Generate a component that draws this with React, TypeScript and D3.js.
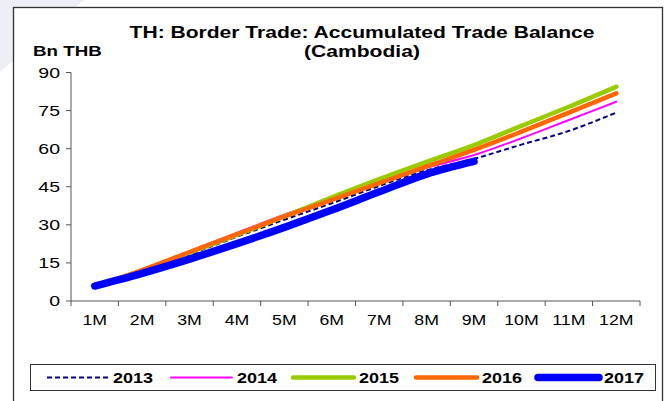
import React from "react";
import * as d3 from "d3";

const months = ["1M", "2M", "3M", "4M", "5M", "6M", "7M", "8M", "9M", "10M", "11M", "12M"];
const yTicks = [0, 15, 30, 45, 60, 75, 90];
const s2013 = [5.5, 11.5, 18.3, 25.3, 32, 38.5, 45.3, 51.5, 56, 61.6, 67, 74.2];
const s2014 = [6, 12.4, 19.6, 26.8, 34, 40.2, 46.5, 52.5, 57.5, 64.1, 71.3, 78.5];
const s2015 = [5.8, 12, 19, 26, 33.3, 40.8, 48, 54.8, 61.4, 69, 76.5, 84.4];
const s2016 = [5.8, 12.2, 19.3, 26.3, 33.3, 39.8, 46.4, 53, 59.5, 66.7, 74.2, 81.8];
const s2017 = [5.9, 10.9, 16.5, 22.6, 29, 35.8, 43, 50, 55];

const seriesNames = ["2013", "2014", "2015", "2016", "2017"];
const seriesData = [s2013, s2014, s2015, s2016, s2017];
const seriesColors = ["#000080", "#ff00ff", "#99cc00", "#ff6600", "#0000ff"];
const seriesWidths = [2, 2, 4.5, 4.5, 7.5];
const seriesDash = ["5,3", null, null, null, null];

const FONT = "Arial, 'Liberation Sans', sans-serif";
const SX = 1.2;

function T(props: {
  x: number;
  y: number;
  size: number;
  bold?: boolean;
  anchor?: "start" | "middle" | "end";
  sx?: number;
  children: React.ReactNode;
}) {
  const { x, y, size, bold, anchor = "start", sx = SX, children } = props;
  return (
    <g transform={`translate(${x},${y}) scale(${sx},1)`}>
      <text x={0} y={0} dy="0.36em" textAnchor={anchor} fontSize={size} fontWeight={bold ? "bold" : "normal"} fill="#000">
        {children}
      </text>
    </g>
  );
}

export default function App() {
  const W = 667, H = 401;
  const x = d3.scaleBand<string>().domain(months).range([71, 640]).paddingInner(0).paddingOuter(0);
  const y = d3.scaleLinear().domain([0, 90]).range([301, 72.5]);
  const cx = (i: number) => (x(months[i]) as number) + x.bandwidth() / 2;
  const line = d3
    .line<number>()
    .x((_, i) => cx(i))
    .y((d) => y(d))
    .curve(d3.curveMonotoneX);

  const legendX = [47, 171, 293, 416, 538];
  const legendW = 61;

  return (
    <svg width={W} height={H} style={{ position: "absolute", left: 0, top: 0 }} fontFamily={FONT}>
      <rect x={0} y={0} width={W} height={H} fill="#fff" />
      <polygon points="0,0 84,0 0,72" fill="#eeeef7" />
      <rect x={13.5} y={7.5} width={649} height={420} fill="#fff" stroke="#333" strokeWidth={1.3} />
      <T x={362} y={32} size={17} bold anchor="middle" sx={1.24}>
        TH: Border Trade: Accumulated Trade Balance
      </T>
      <T x={362} y={51} size={17} bold anchor="middle" sx={1.24}>
        (Cambodia)
      </T>
      <T x={33} y={51} size={15} bold sx={1.25}>
        Bn THB
      </T>
      {/* y axis */}
      <line x1={71} x2={71} y1={y(90)} y2={y(0)} stroke="#555" strokeWidth={1} />
      {yTicks.map((t) => (
        <g key={t}>
          <line x1={66} x2={71} y1={y(t)} y2={y(t)} stroke="#555" />
          <T x={60} y={y(t)} size={15} anchor="end" sx={1.3}>
            {t}
          </T>
        </g>
      ))}
      {/* x axis */}
      <line x1={71} x2={640} y1={y(0)} y2={y(0)} stroke="#555" />
      {months.map((m, i) => (
        <g key={m}>
          <line x1={x(m) as number} x2={x(m) as number} y1={301} y2={306} stroke="#555" />
          <T x={cx(i)} y={320} size={15} anchor="middle" sx={1.18}>
            {m}
          </T>
        </g>
      ))}
      <line x1={640} x2={640} y1={301} y2={306} stroke="#555" />
      {/* series */}
      {seriesData.map((d, k) => (
        <path
          key={seriesNames[k]}
          d={line(d) || ""}
          fill="none"
          stroke={seriesColors[k]}
          strokeWidth={seriesWidths[k]}
          strokeDasharray={seriesDash[k] || undefined}
          strokeLinecap={k === 0 ? "butt" : "round"}
          strokeLinejoin="round"
        />
      ))}
      {/* legend */}
      <rect x={30.5} y={364.5} width={625} height={26} fill="#fff" stroke="#333" strokeWidth={1} />
      {seriesNames.map((n, k) => (
        <g key={n}>
          <line
            x1={legendX[k]}
            x2={legendX[k] + legendW}
            y1={377.5}
            y2={377.5}
            stroke={seriesColors[k]}
            strokeWidth={seriesWidths[k]}
            strokeDasharray={seriesDash[k] || undefined}
            strokeLinecap={k === 0 ? "butt" : "round"}
          />
          <T x={legendX[k] + legendW + 5} y={377.5} size={15} bold sx={1.2}>
            {n}
          </T>
        </g>
      ))}
    </svg>
  );
}
